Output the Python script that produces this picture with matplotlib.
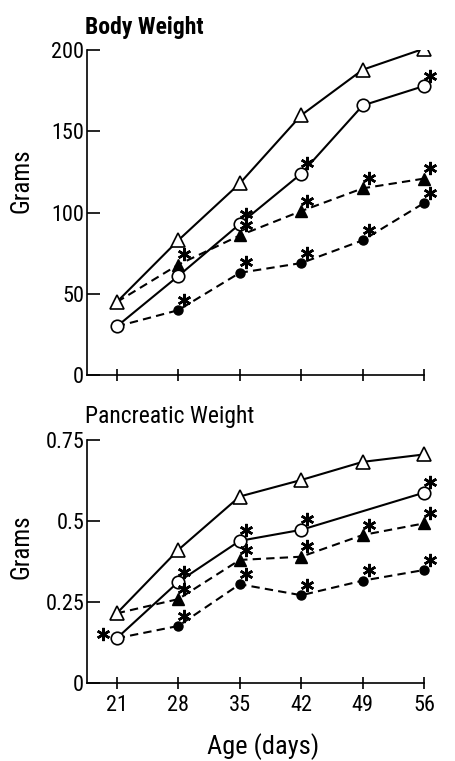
import numpy as np
import matplotlib
matplotlib.use('Agg')
import matplotlib.pyplot as plt
from matplotlib.transforms import offset_copy

plt.rcParams['font.family'] = ['Roboto Condensed', 'Liberation Sans Narrow', 'DejaVu Sans']

# ages (days)
ages = [21, 28, 35, 42, 49, 56]

# body weight, grams
body_open_tri = [45, 83, 118, 160, 188, 201]
body_open_circ = [30, 61, 93, 124, 166, 178]
body_fill_tri = [45, 68, 86, 101, 115, 121]
body_fill_circ = [30, 40, 63, 69, 83, 106]

# pancreatic weight, grams
panc_open_tri = [0.214, 0.41, 0.575, 0.626, 0.682, 0.705]
panc_open_circ_ages = [21, 28, 35, 42, 56]
panc_open_circ = [0.137, 0.311, 0.438, 0.472, 0.587]
panc_fill_tri = [0.214, 0.258, 0.379, 0.389, 0.456, 0.492]
panc_fill_circ = [0.137, 0.175, 0.304, 0.27, 0.315, 0.348]

# where asterisks go (series, age)
body_stars = [('oc', 35), ('oc', 42), ('oc', 56),
              ('ft', 28), ('ft', 35), ('ft', 42), ('ft', 49), ('ft', 56),
              ('fc', 28), ('fc', 35), ('fc', 42), ('fc', 49), ('fc', 56)]
panc_stars = [('oc', 28), ('oc', 35), ('oc', 42), ('oc', 56),
              ('ft', 28), ('ft', 35), ('ft', 42), ('ft', 49), ('ft', 56),
              ('fc', 28), ('fc', 35), ('fc', 42), ('fc', 49), ('fc', 56)]

fig = plt.figure(figsize=(4.55, 7.61), dpi=100)
ax1 = fig.add_axes([0.191, 0.507, 0.776, 0.427])
ax2 = fig.add_axes([0.191, 0.103, 0.776, 0.319])

lw = 1.5
star = (6, 2, 0)  # six-spoke asterisk marker


def draw(ax, x_oc, oc, ot, ft, fc, stars, label_y):
	# dashed lines start at the open markers at day 21
	ax.plot(ages, ft, color='black', lw=lw, dashes=(4, 2.5), zorder=2)
	ax.plot(ages[1:], ft[1:], '^', color='black', ms=8, zorder=3)
	ax.plot(ages, fc, color='black', lw=lw, dashes=(4, 2.5), zorder=2)
	ax.plot(ages[1:], fc[1:], 'o', color='black', ms=6.5, zorder=3)
	ax.plot(ages, ot, '-^', color='black', lw=lw, ms=10, mfc='white', mew=1.2, zorder=4)
	ax.plot(x_oc, oc, '-o', color='black', lw=lw, ms=9, mfc='white', mew=1.2, zorder=4)
	series = {'oc': dict(zip(x_oc, oc)), 'ft': dict(zip(ages, ft)), 'fc': dict(zip(ages, fc))}
	tr = offset_copy(ax.transData, fig=fig, x=4.5, y=7.5, units='points')
	sx = [a for k, a in stars]
	sy = [series[k][a] for k, a in stars]
	ax.plot(sx, sy, ls='none', marker=star, ms=9.5, mew=1.8, color='black',
	        transform=tr, clip_on=False, zorder=5)
	for s in ['top', 'right']:
		ax.spines[s].set_visible(False)
	ax.spines['left'].set_linewidth(1.2)
	ax.spines['bottom'].set_linewidth(1.2)
	ax.spines['bottom'].set_bounds(17.6, 56)
	ax.set_xlim(17.6, 57.8)
	ax.set_xticks(ages)
	ax.tick_params(axis='x', direction='inout', length=8, width=1.2, labelsize=16, pad=5)
	ax.tick_params(axis='y', direction='in', length=9, width=1.2, labelsize=16, pad=2)
	ax.set_ylabel('Grams', fontsize=18)
	ax.yaxis.set_label_coords(-0.15, label_y)


draw(ax1, ages, body_open_circ, body_open_tri, body_fill_tri, body_fill_circ, body_stars, 0.6)
ax1.set_ylim(0, 200)
ax1.spines['left'].set_bounds(0, 200)
ax1.set_yticks([0, 50, 100, 150, 200])
ax1.set_xticklabels([])
ax1.set_title('Body Weight', loc='left', fontsize=17, fontweight='bold', pad=12, x=-0.005)

draw(ax2, panc_open_circ_ages, panc_open_circ, panc_open_tri, panc_fill_tri, panc_fill_circ, panc_stars, 0.56)
# star left of the day-21 circle
tr_left = offset_copy(ax2.transData, fig=fig, x=-10, y=3, units='points')
ax2.plot([21], [panc_open_circ[0]], ls='none', marker=star, ms=9.5, mew=1.8, color='black',
         transform=tr_left, clip_on=False, zorder=5)
ax2.set_ylim(0, 0.75)
ax2.spines['left'].set_bounds(0, 0.75)
ax2.set_yticks([0, 0.25, 0.5, 0.75])
ax2.set_yticklabels(['0', '0.25', '0.5', '0.75'])
ax2.set_title('Pancreatic Weight', loc='left', fontsize=17, pad=12, x=-0.005)
ax2.set_xlabel('Age (days)', fontsize=19, labelpad=12)

fig.savefig('out.png', dpi=100)
